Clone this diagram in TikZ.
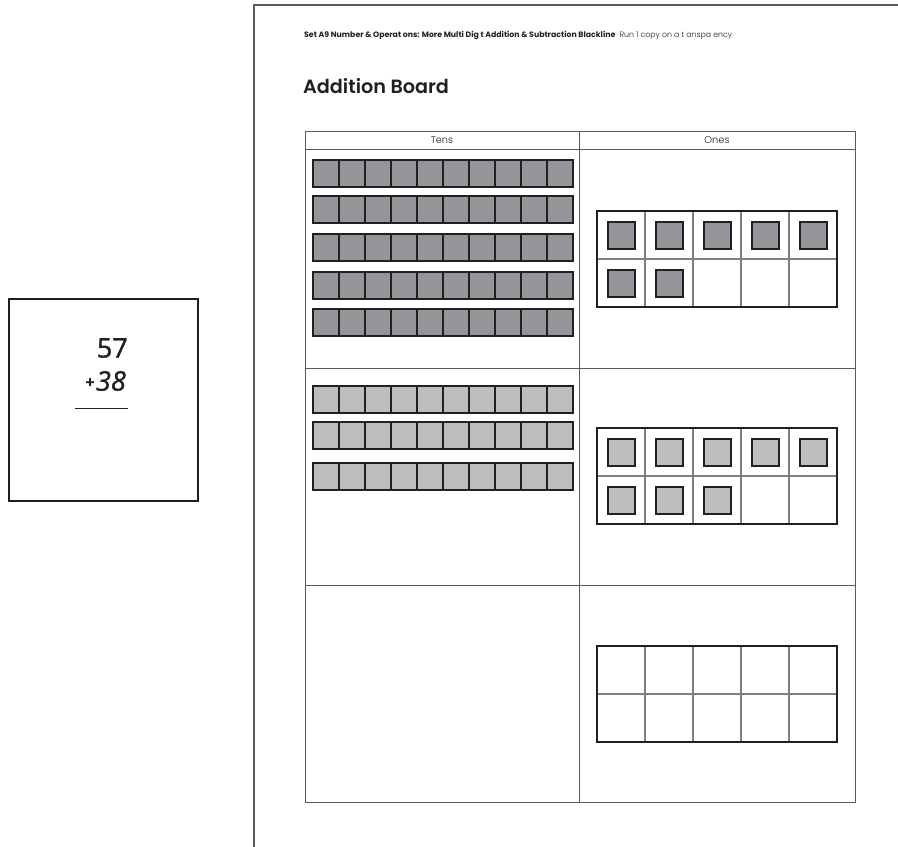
\documentclass[tikz,border=0pt]{standalone}
\usepackage{fontspec}
\setmainfont{Poppins}
\newfontfamily\titlefont{Poppins SemiBold}
\newfontfamily\lightfont{Poppins Light}
\newfontfamily\handfont[FakeBold=1.3]{Open Sans}
\definecolor{ink}{RGB}{35,31,32}
\definecolor{darkfill}{RGB}{147,149,152}
\definecolor{lightfill}{RGB}{188,190,192}
\definecolor{gridgray}{RGB}{128,128,128}
\definecolor{tablegray}{RGB}{90,90,90}
\tikzset{
  pageline/.style={draw=tablegray,line width=1.1pt},
  tableline/.style={draw=tablegray,line width=0.9pt},
  cube/.style={draw=ink,line width=2pt},
  frameouter/.style={draw=ink,line width=2pt},
  frameinner/.style={draw=gridgray,line width=1.1pt},
  lbl/.style={font=\lightfont\fontsize{9.8}{11}\selectfont, text=ink, inner sep=0pt},
  numtxt/.style={font=\handfont\fontsize{27}{29}\selectfont, text=ink, inner sep=0pt},
}
\begin{document}
\begin{tikzpicture}[x=1pt,y=-1pt]
\useasboundingbox (0,0) rectangle (898,847);
\fill[white] (0,0) rectangle (898,847);
% page edge
\draw[pageline] (254,847) -- (254,5) -- (898,5);
% header
\node[anchor=west, inner sep=0pt, text=ink] (header) at (304,35)
  {\fontsize{7.8}{9}\selectfont\textbf{Set A9 Number \& Operat ons: More Multi Dig t Addition \& Subtraction Blackline}\ \ {\lightfont\fontsize{7.8}{9}\selectfont Run 1 copy on a t anspa ency}};
\node[anchor=west, inner sep=0pt, text=ink] (title) at (303,86)
  {\titlefont\fontsize{19.2}{21}\selectfont Addition Board};
% table
\draw[tableline] (305,131) rectangle (855,802);
\draw[tableline] (305,149) -- (855,149);
\draw[tableline] (579,131) -- (579,802);
\draw[tableline] (305,368) -- (855,368);
\draw[tableline] (305,585) -- (855,585);
\node[lbl] (tens) at (442,140) {Tens};
\node[lbl] (ones) at (717,140) {Ones};
% tens bars (dark)
\foreach \yy in {160,196,234,272,309}{
  \foreach \i in {0,...,9}{
    \draw[cube,fill=darkfill] ({313+26*\i},\yy) rectangle ++(26,27);
  }
}
% tens bars (light)
\foreach \yy in {386,422,463}{
  \foreach \i in {0,...,9}{
    \draw[cube,fill=lightfill] ({313+26*\i},\yy) rectangle ++(26,27);
  }
}
% ten frames
\foreach \top in {211,428,646}{
  \foreach \i in {1,...,4}{
    \draw[frameinner] ({597+48*\i},\top) -- ++(0,96);
  }
  \draw[frameinner] (597,\top+48) -- ++(240,0);
  \draw[frameouter] (597,\top) rectangle ++(240,96);
}
% ones counters (dark): 7
\foreach \i/\j in {0/0,1/0,2/0,3/0,4/0,0/1,1/1}{
  \draw[cube,fill=darkfill] ({597+24+48*\i-13.5},{211+24+48*\j-13.5}) rectangle ++(27,27);
}
% ones counters (light): 8
\foreach \i/\j in {0/0,1/0,2/0,3/0,4/0,0/1,1/1,2/1}{
  \draw[cube,fill=lightfill] ({597+24+48*\i-13.5},{428+24+48*\j-13.5}) rectangle ++(27,27);
}
% problem card
\draw[draw=ink,line width=2pt] (9,299) rectangle (198,501);
\node[numtxt,anchor=east] (n57) at (128,348) {57};
\node[numtxt,anchor=east] (n38) at (126,381) {\itshape 38};
\node[numtxt,font=\handfont\bfseries\fontsize{16}{17}\selectfont] (plus) at (90,383) {+};
\draw[draw=ink,line width=1pt] (75,408) -- (128,408);
\end{tikzpicture}
\end{document}
